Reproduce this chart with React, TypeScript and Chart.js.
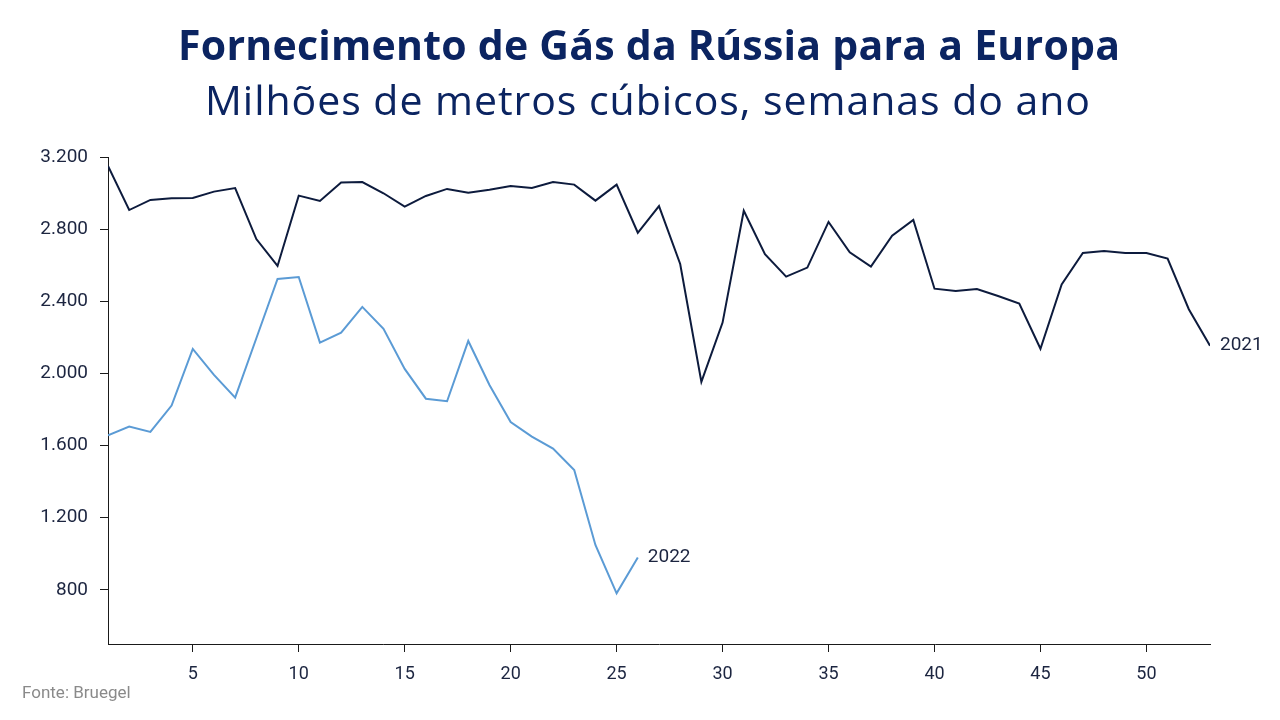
import React, { useEffect, useRef } from "react";
import { Chart, registerables } from "chart.js";

Chart.register(...registerables);

const TITLE = "Fornecimento de Gás da Rússia para a Europa";
const SUBTITLE = "Milhões de metros cúbicos, semanas do ano";
const SOURCE = "Fonte: Bruegel";

const weeks = [
  1, 2, 3, 4, 5, 6, 7, 8, 9, 10, 11, 12, 13, 14, 15, 16, 17, 18, 19, 20, 21, 22, 23, 24, 25, 26, 27,
  28, 29, 30, 31, 32, 33, 34, 35, 36, 37, 38, 39, 40, 41, 42, 43, 44, 45, 46, 47, 48, 49, 50, 51, 52, 53,
];

const series2021 = [
  3150, 2906, 2962, 2971, 2973, 3008, 3028, 2745, 2596, 2986, 2956, 3058, 3061, 2999, 2925, 2984,
  3023, 3002, 3019, 3039, 3028, 3061, 3047, 2958, 3047, 2780, 2928, 2607, 1953, 2282, 2902, 2661,
  2537, 2587, 2840, 2672, 2592, 2764, 2851, 2470, 2457, 2468, 2429, 2387, 2137, 2494, 2668, 2679,
  2668, 2668, 2637, 2356, 2154,
];

const series2022 = [
  1657, 1705, 1676, 1822, 2136, 1992, 1866, 2195, 2524, 2535, 2171, 2226, 2369, 2247, 2025, 1860,
  1846, 2180, 1936, 1731, 1650, 1583, 1465, 1049, 781, 979,
];

const yTicks = [800, 1200, 1600, 2000, 2400, 2800, 3200];
const xTicks = [5, 10, 15, 20, 25, 30, 35, 40, 45, 50];
const seriesNames = ["2021", "2022"];

const NAVY = "#0b2461";
const C2021 = "#0d1b3d";
const C2022 = "#5b9bd5";
const AXIS = "#1a1a1a";
const TICKTXT = "#1c2540";
const FONT = "Roboto, 'Open Sans', sans-serif";
const TFONT = "'Open Sans', Roboto, sans-serif";

function fmt(v: number): string {
  return String(Math.round(v)).replace(/\B(?=(\d{3})+(?!\d))/g, ".");
}

function fitText(ctx: CanvasRenderingContext2D, text: string, weight: string, size: number, family: string, target: number) {
  ctx.font = `${weight} ${size}px ${family}`;
  (ctx as any).letterSpacing = "0px";
  const w = ctx.measureText(text).width;
  const extra = (target - w) / Math.max(1, text.length - 1);
  (ctx as any).letterSpacing = `${extra}px`;
}

const textPlugin = {
  id: "texts",
  afterDraw(chart: any) {
    const ctx = chart.ctx as CanvasRenderingContext2D;
    ctx.save();
    ctx.fillStyle = NAVY;
    ctx.textAlign = "left";
    ctx.textBaseline = "alphabetic";
    fitText(ctx, TITLE, "bold", 41, TFONT, 942);
    ctx.fillText(TITLE, 178, 60);
    fitText(ctx, SUBTITLE, "normal", 41, TFONT, 885);
    ctx.fillText(SUBTITLE, 205, 115);
    (ctx as any).letterSpacing = "0px";

    ctx.fillStyle = "#8a8a8a";
    ctx.font = `normal 17px ${FONT}`;
    ctx.fillText(SOURCE, 22, 698);

    ctx.fillStyle = TICKTXT;
    ctx.font = `normal 19px ${FONT}`;
    ctx.textBaseline = "middle";
    chart.data.datasets.forEach((ds: any, i: number) => {
      const meta = chart.getDatasetMeta(i);
      const pts = meta.data;
      const last = pts[pts.length - 1];
      if (last) ctx.fillText(seriesNames[i], last.x + 10, last.y);
    });
    ctx.restore();
  },
};

export default function App() {
  const ref = useRef<HTMLCanvasElement | null>(null);

  useEffect(() => {
    if (!ref.current) return;
    const chart = new Chart(ref.current, {
      type: "line",
      data: {
        datasets: [
          {
            label: seriesNames[0],
            data: series2021.map((v, i) => ({ x: weeks[i], y: v })),
            borderColor: C2021,
            borderWidth: 2,
            pointRadius: 0,
            tension: 0,
            fill: false,
          },
          {
            label: seriesNames[1],
            data: series2022.map((v, i) => ({ x: weeks[i], y: v })),
            borderColor: C2022,
            borderWidth: 2,
            pointRadius: 0,
            tension: 0,
            fill: false,
          },
        ],
      },
      options: {
        animation: false,
        responsive: false,
        devicePixelRatio: 1,
        layout: { padding: { top: 157, right: 70, bottom: 0, left: 0 } },
        plugins: {
          legend: { display: false },
          title: { display: false },
          tooltip: { enabled: false },
        },
        scales: {
          x: {
            type: "linear",
            min: 1,
            max: 53,
            afterBuildTicks(scale: any) {
              scale.ticks = xTicks.map((v) => ({ value: v }));
            },
            afterFit(scale: any) {
              scale.height = 76;
            },
            ticks: {
              color: TICKTXT,
              font: { family: FONT, size: 18 },
              padding: 12,
              maxRotation: 0,
              autoSkip: false,
              callback: (v: any) => String(v),
            },
            grid: { drawOnChartArea: false, drawTicks: true, tickLength: 8, color: AXIS },
            border: { display: true, color: AXIS, width: 1 },
          },
          y: {
            type: "linear",
            min: 500,
            max: 3200,
            afterBuildTicks(scale: any) {
              scale.ticks = yTicks.map((v) => ({ value: v }));
            },
            afterFit(scale: any) {
              scale.width = 108;
            },
            ticks: {
              color: TICKTXT,
              font: { family: FONT, size: 19 },
              padding: 12,
              autoSkip: false,
              callback: (v: any) => fmt(Number(v)),
            },
            grid: { drawOnChartArea: false, drawTicks: true, tickLength: 8, color: AXIS },
            border: { display: true, color: AXIS, width: 1 },
          },
        },
      },
      plugins: [textPlugin],
    });
    return () => chart.destroy();
  }, []);

  return (
    <div style={{ position: "fixed", left: 0, top: 0, width: 1280, height: 720, background: "#fff" }}>
      <canvas ref={ref} width={1280} height={720} style={{ width: 1280, height: 720, display: "block" }} />
    </div>
  );
}
